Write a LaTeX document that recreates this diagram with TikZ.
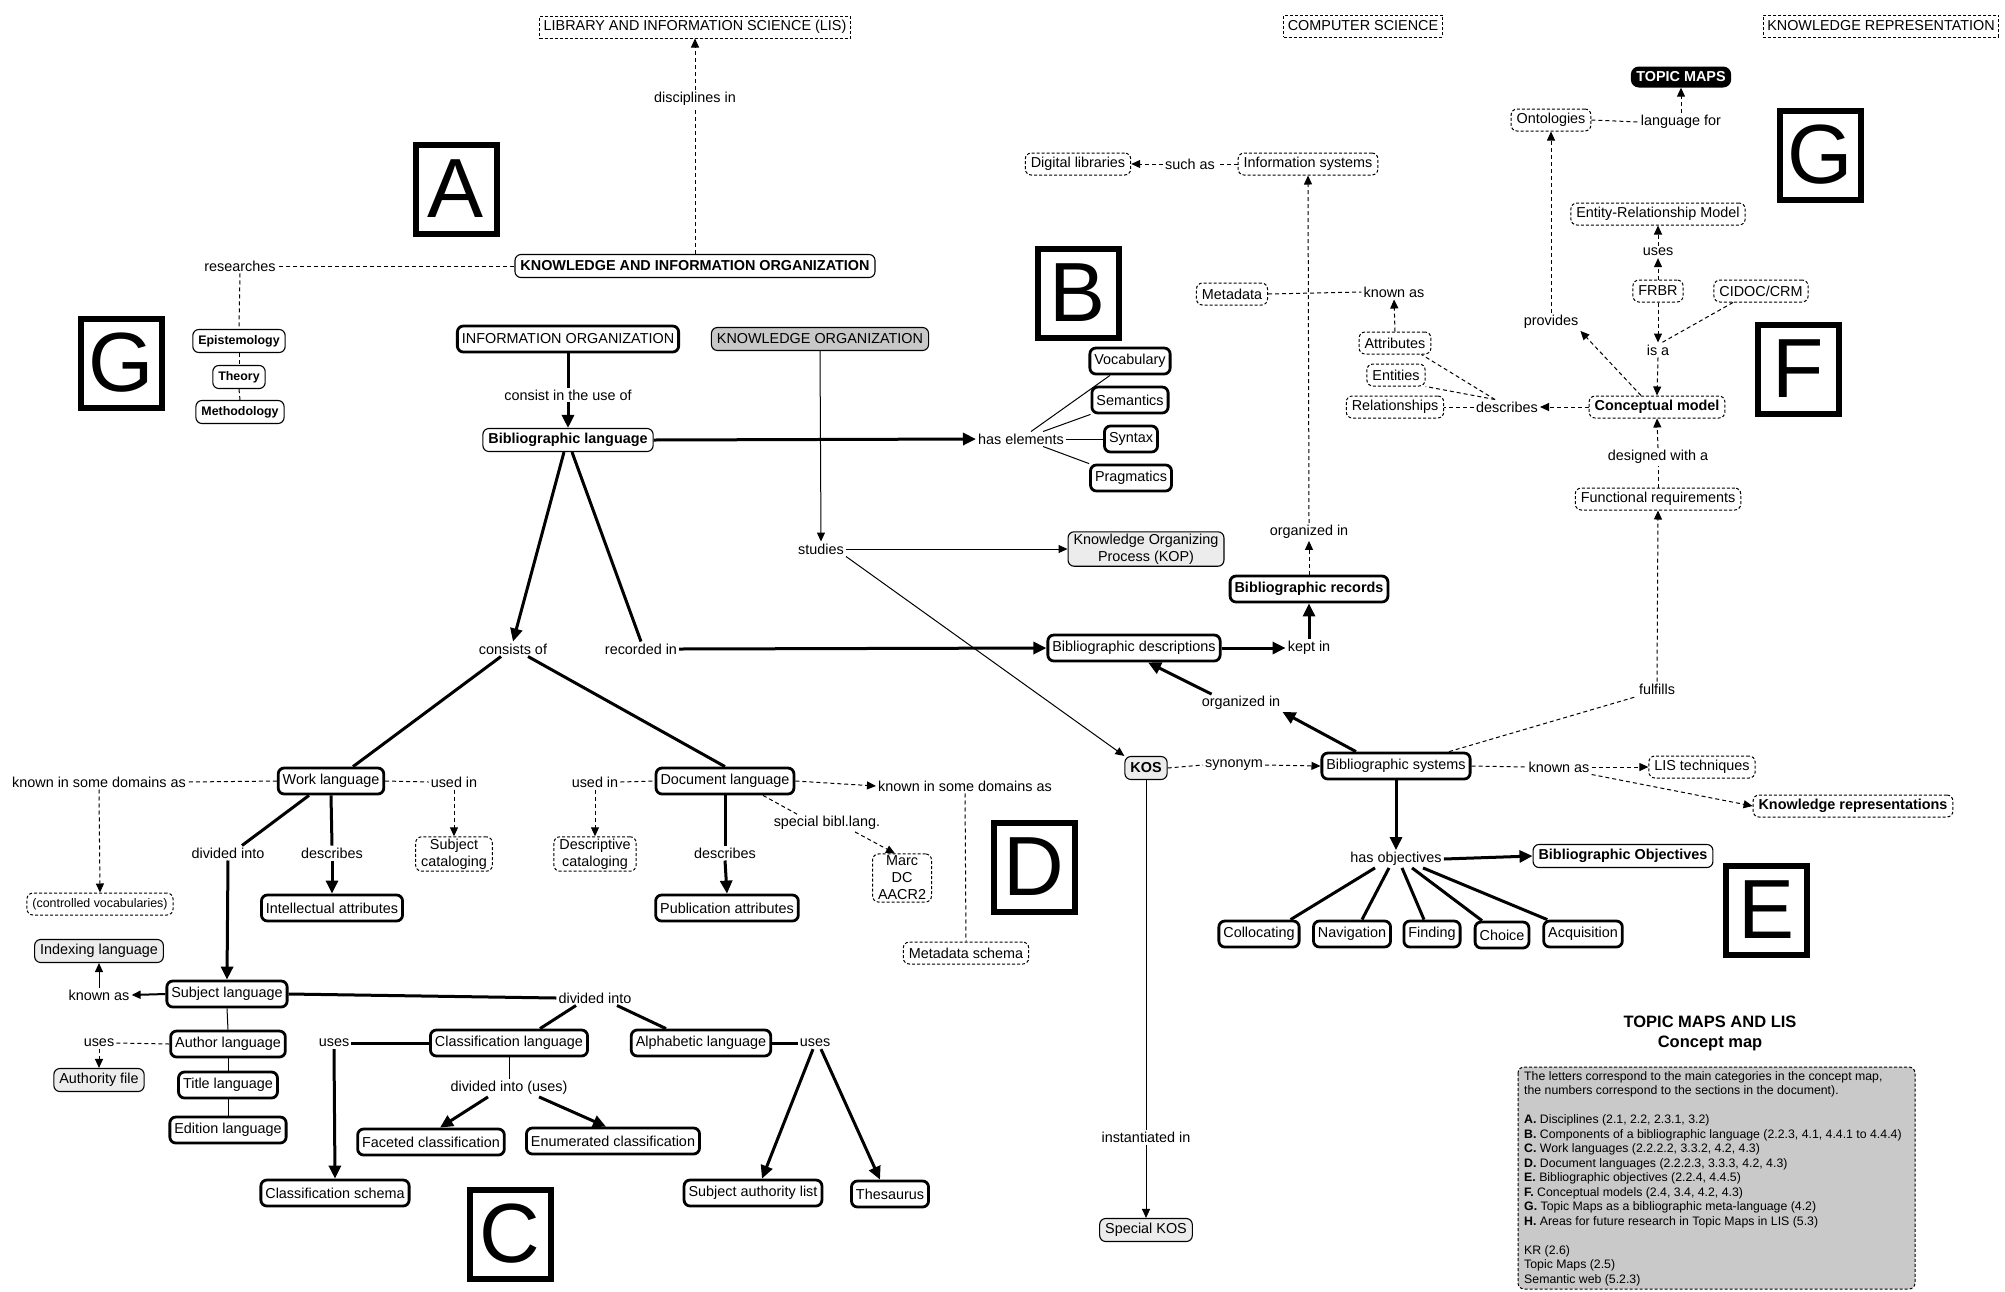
\documentclass[tikz,border=0pt]{standalone}
\usepackage{fontspec}
\setmainfont{Liberation Sans}
\usetikzlibrary{arrows.meta}
\definecolor{conceptgray}{RGB}{200,200,200}
\definecolor{palegray}{RGB}{236,236,236}
\definecolor{legendgray}{RGB}{201,201,201}
\newcommand\mapfont{\fontsize{14.4}{17}\selectfont}
\newcommand\smallmapfont{\fontsize{12.4}{14}\selectfont}
\newcommand\legendfont{\fontsize{12.3}{14.5}\selectfont}

\begin{document}
\begin{tikzpicture}[x=1pt,y=-1pt,
  concept/.style={rounded corners=6pt, inner xsep=5.5pt, inner ysep=2pt, minimum height=23pt, align=center, font=\mapfont},
  thinbox/.style={concept, draw, line width=1.1pt},
  thickbox/.style={concept, draw, line width=2.8pt, minimum height=26pt, inner xsep=4.5pt},
  dashbox/.style={concept, draw, line width=1pt, dash pattern=on 3pt off 2pt, minimum height=22pt},
  field/.style={draw, line width=1pt, dash pattern=on 3pt off 2pt, inner xsep=4pt, minimum height=22pt, font=\mapfont},
  strong/.style={font=\mapfont\bfseries},
  phrase/.style={inner sep=2pt, font=\mapfont},
  solidln/.style={line width=1pt},
  heavyln/.style={line width=3pt},
  midln/.style={line width=2pt},
  dashln/.style={line width=1pt, dash pattern=on 4pt off 3pt},
  tipsm/.style={-{Triangle[length=9pt,width=8pt]}},
  tiplg/.style={-{Triangle[length=13pt,width=12pt]}},
  letterbox/.style={draw, line width=6pt, minimum width=81pt, minimum height=89pt, inner sep=0pt, font=\fontsize{84}{84}\selectfont},
]
\useasboundingbox (0,0) rectangle (2005,1291);

% ---------- section letters ----------
\node[letterbox] (boxA) at (456,189) {A};
\node[letterbox] (boxB) at (1078,293) {B};
\node[letterbox] (boxC) at (510,1234) {C};
\node[letterbox] (boxD) at (1034,867) {D};
\node[letterbox] (boxE) at (1766,910) {E};
\node[letterbox] (boxF) at (1798,369) {F};
\node[letterbox] (boxGl) at (121,363) {G};
\node[letterbox] (boxGr) at (1820,155) {G};

% ---------- fields ----------
\node[field] (lis) at (695,27) {LIBRARY AND INFORMATION SCIENCE (LIS)};
\node[field] (cs) at (1363,26) {COMPUTER SCIENCE};
\node[field] (kr) at (1881,26) {KNOWLEDGE REPRESENTATION};

% ---------- upper left ----------
\node[thinbox, strong] (kio) at (695,266) {KNOWLEDGE AND INFORMATION ORGANIZATION};
\node[phrase] (disc) at (695,99) {disciplines in};
\node[phrase] (res) at (240,266) {researches};
\node[thinbox, font=\smallmapfont\bfseries] (epi) at (239,341) {Epistemology};
\node[thinbox, font=\smallmapfont\bfseries] (the) at (239,377) {Theory};
\node[thinbox, font=\smallmapfont\bfseries] (met) at (240,412) {Methodology};
\node[thickbox] (infoorg) at (568,339) {INFORMATION ORGANIZATION};
\node[thinbox, fill=conceptgray] (knorg) at (820,339) {KNOWLEDGE ORGANIZATION};
\node[phrase] (consistuse) at (568,395) {consist in the use of};
\node[thinbox, strong] (biblang) at (568,440) {Bibliographic language};

% ---------- components ----------
\node[phrase] (haselem) at (1021,439) {has elements};
\node[thickbox] (vocab) at (1130,361) {Vocabulary};
\node[thickbox] (sem) at (1130,400) {Semantics};
\node[thickbox] (syn) at (1131,439) {Syntax};
\node[thickbox] (prag) at (1131,478) {Pragmatics};
\node[phrase] (studies) at (821,549) {studies};
\node[thinbox, fill=palegray] (kop) at (1146,549) {Knowledge Organizing\\Process (KOP)};

% ---------- bibliographic descriptions and records ----------
\node[phrase] (consof) at (513,649) {consists of};
\node[phrase] (recin) at (641,649) {recorded in};
\node[thickbox] (bibdesc) at (1134,648) {Bibliographic descriptions};
\node[phrase] (keptin) at (1309,648) {kept in};
\node[thickbox, strong] (bibrec) at (1309,589) {Bibliographic records};
\node[phrase] (orgin1) at (1309,532) {organized in};
\node[dashbox] (infosys) at (1308,164) {Information systems};
\node[phrase] (suchas) at (1190,164) {such as};
\node[dashbox] (diglib) at (1078,164) {Digital libraries};

% ---------- conceptual models ----------
\node[dashbox] (metadata) at (1232,294) {Metadata};
\node[phrase] (knownas1) at (1394,292) {known as};
\node[dashbox] (attr) at (1395,343) {Attributes};
\node[dashbox] (ent) at (1396,375) {Entities};
\node[dashbox] (rel) at (1395,407) {Relationships};
\node[phrase] (describes) at (1507,407) {describes};
\node[dashbox, strong] (concmod) at (1657,407) {Conceptual model};
\node[phrase] (provides) at (1551,322) {provides};
\node[dashbox] (onto) at (1551,120) {Ontologies};
\node[phrase] (langfor) at (1681,122) {language for};
\node[concept, fill=black, text=white, font=\mapfont\bfseries, minimum height=21pt, rounded corners=8pt] (topicmaps) at (1681,77) {TOPIC MAPS};
\node[dashbox] (erm) at (1658,214) {Entity-Relationship Model};
\node[phrase] (uses1) at (1658,252) {uses};
\node[dashbox] (frbr) at (1658,291) {FRBR};
\node[dashbox] (cidoc) at (1761,291) {CIDOC/CRM};
\node[phrase] (isa) at (1658,350) {is a};
\node[phrase] (designed) at (1658,457) {designed with a};
\node[dashbox] (funreq) at (1658,499) {Functional requirements};
\node[phrase] (fulfills) at (1657,689) {fulfills};

% ---------- bibliographic systems ----------
\node[phrase] (orgin2) at (1241,703) {organized in};
\node[thinbox, strong, fill=palegray] (kos) at (1146,768) {KOS};
\node[phrase] (synonym) at (1234,765) {synonym};
\node[thickbox] (bibsys) at (1396,766) {Bibliographic systems};
\node[phrase] (knownas2) at (1559,767) {known as};
\node[dashbox] (listech) at (1702,767) {LIS techniques};
\node[dashbox, strong] (krep) at (1853,806) {Knowledge representations};
\node[phrase] (hasobj) at (1396,859) {has objectives};
\node[thinbox, strong] (bibobj) at (1623,856) {Bibliographic Objectives};
\node[thickbox] (colloc) at (1259,934) {Collocating};
\node[thickbox] (navig) at (1352,934) {Navigation};
\node[thickbox] (finding) at (1432,934) {Finding};
\node[thickbox] (choice) at (1502,935) {Choice};
\node[thickbox] (acq) at (1583,934) {Acquisition};
\node[phrase] (instin) at (1146,1137) {instantiated in};
\node[thinbox, fill=palegray] (specialkos) at (1146,1230) {Special KOS};

% ---------- work and document languages ----------
\node[thickbox] (worklang) at (331,781) {Work language};
\node[phrase] (kisd1) at (99,782) {known in some domains as};
\node[phrase] (usedin1) at (454,782) {used in};
\node[dashbox] (subjcat) at (454,854) {Subject\\cataloging};
\node[phrase] (usedin2) at (595,782) {used in};
\node[dashbox] (desccat) at (595,854) {Descriptive\\cataloging};
\node[thickbox] (doclang) at (725,781) {Document language};
\node[phrase] (kisd2) at (965,786) {known in some domains as};
\node[dashbox] (metaschema) at (966,953) {Metadata schema};
\node[phrase] (special) at (827,823) {special bibl.lang.};
\node[dashbox] (marc) at (902,878) {Marc\\DC\\AACR2};
\node[phrase] (divinto1) at (228,853) {divided into};
\node[phrase] (describes1) at (332,853) {describes};
\node[phrase] (describes2) at (725,853) {describes};
\node[thickbox] (intattr) at (332,908) {Intellectual attributes};
\node[thickbox] (pubattr) at (727,908) {Publication attributes};
\node[dashbox, font=\smallmapfont] (contvoc) at (100,904) {(controlled vocabularies)};
\node[thinbox, fill=palegray] (indexlang) at (99,951) {Indexing language};
\node[phrase] (knownas3) at (99,995) {known as};
\node[thickbox] (subjlang) at (227,994) {Subject language};
\node[phrase] (divinto2) at (595,998) {divided into};
\node[thickbox] (classlang) at (509,1043) {Classification language};
\node[thickbox] (alphalang) at (701,1043) {Alphabetic language};
\node[phrase] (uses2) at (334,1043) {uses};
\node[thickbox] (classschema) at (335,1193) {Classification schema};
\node[phrase] (divuses) at (509,1088) {divided into (uses)};
\node[thickbox] (faceted) at (431,1142) {Faceted classification};
\node[thickbox] (enum) at (613,1141) {Enumerated classification};
\node[phrase] (uses3) at (815,1043) {uses};
\node[thickbox] (sal) at (753,1193) {Subject authority list};
\node[thickbox] (thes) at (890,1194) {Thesaurus};
\node[thickbox] (authlang) at (228,1044) {Author language};
\node[thickbox] (titlelang) at (228,1085) {Title language};
\node[thickbox] (edlang) at (228,1130) {Edition language};
\node[phrase] (uses4) at (99,1043) {uses};
\node[thinbox, fill=palegray] (authfile) at (99,1080) {Authority file};

% ---------- connectors: disciplines ----------
\draw[dashln] (kio.north) -- (disc.south);
\draw[dashln, tipsm] (disc.north) -- (lis.south);
\draw[dashln] (kio.west) -- (res.east);
\draw[dashln] (res.south) -- (epi.north);
\draw[dashln] (epi.south) -- (the.north);
\draw[dashln] (the.south) -- (met.north);

% ---------- connectors: bibliographic language ----------
\draw[heavyln] (infoorg.south) -- (consistuse.north);
\draw[heavyln, tiplg] (consistuse.south) -- (biblang.north);
\draw[heavyln, tiplg] (biblang.east) -- (haselem.west);
\draw[solidln] ([xshift=10pt]haselem.north) -- ([xshift=-20pt]vocab.south);
\draw[solidln] ([xshift=22pt]haselem.north) -- (sem.south west);
\draw[solidln] (haselem.east) -- (syn.west);
\draw[solidln] ([xshift=22pt]haselem.south) -- (prag.north west);
\draw[solidln, tipsm] (knorg.south) -- (studies.north);
\draw[solidln, tipsm] (studies.east) -- (kop.west);
\draw[solidln, tipsm] (studies.south east) -- (kos.north west);
\draw[heavyln, tiplg] ([xshift=-4pt]biblang.south) -- (consof.north);
\draw[heavyln] ([xshift=-12pt]consof.south) -- ([xshift=22pt]worklang.north);
\draw[heavyln] ([xshift=15pt]consof.south) -- (doclang.north);
\draw[heavyln] ([xshift=4pt]biblang.south) -- (recin.north);
\draw[heavyln, tiplg] (recin.east) -- (bibdesc.west);
\draw[heavyln, tiplg] (bibdesc.east) -- (keptin.west);
\draw[heavyln, tiplg] (keptin.north) -- (bibrec.south);
\draw[dashln, tipsm] (bibrec.north) -- (orgin1.south);
\draw[dashln, tipsm] (orgin1.north) -- (infosys.south);
\draw[dashln] (infosys.west) -- (suchas.east);
\draw[dashln, tipsm] (suchas.west) -- (diglib.east);

% ---------- connectors: conceptual models ----------
\draw[dashln] (metadata.east) -- (knownas1.west);
\draw[dashln, tipsm] (attr.north) -- (knownas1.south);
\draw[dashln, tipsm] (concmod.west) -- (describes.east);
\draw[dashln] (describes.west) -- (rel.east);
\draw[dashln] ([xshift=-12pt]describes.north) -- (ent.south east);
\draw[dashln] ([xshift=-12pt]describes.north) -- ([xshift=-10pt]attr.south east);
\draw[dashln, tipsm] ([xshift=-16pt]concmod.north) -- (provides.south east);
\draw[dashln, tipsm] (provides.north) -- (onto.south);
\draw[dashln] (onto.east) -- (langfor.west);
\draw[dashln, tipsm] (langfor.north) -- (topicmaps.south);
\draw[dashln, tipsm] (frbr.north) -- (uses1.south);
\draw[dashln, tipsm] (uses1.north) -- (erm.south);
\draw[dashln, tipsm] (frbr.south) -- (isa.north);
\draw[dashln] ([xshift=-28pt]cidoc.south) -- ([xshift=4pt]isa.north);
\draw[dashln, tipsm] (isa.south) -- (concmod.north);
\draw[dashln] (funreq.north) -- (designed.south);
\draw[dashln, tipsm] (designed.north) -- (concmod.south);
\draw[dashln] ([xshift=53pt]bibsys.north) -- (fulfills.south west);
\draw[dashln, tipsm] (fulfills.north) -- (funreq.south);

% ---------- connectors: bibliographic systems ----------
\draw[heavyln, tiplg] ([xshift=-40pt]bibsys.north) -- (orgin2.south east);
\draw[heavyln, tiplg] ([xshift=12pt]orgin2.north west) -- ([xshift=14pt]bibdesc.south);
\draw[dashln] (kos.east) -- (synonym.west);
\draw[dashln, tipsm] (synonym.east) -- (bibsys.west);
\draw[dashln] (bibsys.east) -- (knownas2.west);
\draw[dashln, tipsm] (knownas2.east) -- (listech.west);
\draw[dashln, tipsm] (knownas2.south east) -- (krep.west);
\draw[heavyln, tiplg] (bibsys.south) -- (hasobj.north);
\draw[heavyln, tiplg] (hasobj.east) -- (bibobj.west);
\draw[heavyln] ([xshift=-21pt]hasobj.south) -- ([xshift=-10pt]colloc.north east);
\draw[heavyln] ([xshift=-7pt]hasobj.south) -- ([xshift=10pt]navig.north);
\draw[heavyln] ([xshift=6pt]hasobj.south) -- ([xshift=-8pt]finding.north);
\draw[heavyln] ([xshift=16pt]hasobj.south) -- ([xshift=-20pt]choice.north);
\draw[heavyln] ([xshift=27pt]hasobj.south) -- ([xshift=5pt]acq.north west);
\draw[solidln] (kos.south) -- (instin.north);
\draw[solidln, tipsm] (instin.south) -- (specialkos.north);

% ---------- connectors: work and document languages ----------
\draw[dashln] (worklang.west) -- (kisd1.east);
\draw[dashln, tipsm] (kisd1.south) -- (contvoc.north);
\draw[dashln] (worklang.east) -- (usedin1.west);
\draw[dashln, tipsm] (usedin1.south) -- (subjcat.north);
\draw[dashln] (usedin2.east) -- (doclang.west);
\draw[dashln, tipsm] (usedin2.south) -- (desccat.north);
\draw[dashln, tipsm] (doclang.east) -- (kisd2.west);
\draw[dashln] (kisd2.south) -- (metaschema.north);
\draw[dashln] ([xshift=38pt]doclang.south) -- ([xshift=-30pt]special.north);
\draw[dashln, tipsm] ([xshift=28pt]special.south) -- ([xshift=-7pt]marc.north);
\draw[heavyln] ([xshift=-22pt]worklang.south) -- ([xshift=14pt]divinto1.north);
\draw[heavyln, tiplg] (divinto1.south) -- (subjlang.north);
\draw[heavyln] (worklang.south) -- (describes1.north);
\draw[heavyln, tiplg] (describes1.south) -- (intattr.north);
\draw[heavyln] (doclang.south) -- (describes2.north);
\draw[heavyln, tiplg] (describes2.south) -- (pubattr.north);
\draw[midln, tipsm] (subjlang.west) -- (knownas3.east);
\draw[solidln, tipsm] (knownas3.north) -- (indexlang.south);
\draw[heavyln] (subjlang.east) -- (divinto2.west);
\draw[heavyln] ([xshift=-19pt]divinto2.south) -- ([xshift=31pt]classlang.north);
\draw[heavyln] ([xshift=22pt]divinto2.south) -- ([xshift=-35pt]alphalang.north);
\draw[solidln] (subjlang.south) -- (authlang.north);
\draw[solidln] (authlang.south) -- (titlelang.north);
\draw[solidln] (titlelang.south) -- (edlang.north);
\draw[dashln] (authlang.west) -- (uses4.east);
\draw[dashln, tipsm] (uses4.south) -- (authfile.north);
\draw[heavyln] (classlang.west) -- (uses2.east);
\draw[heavyln, tiplg] (uses2.south) -- (classschema.north);
\draw[solidln] (classlang.south) -- (divuses.north);
\draw[heavyln, tiplg] ([xshift=-21pt]divuses.south) -- ([xshift=9pt]faceted.north);
\draw[heavyln, tiplg] ([xshift=30pt]divuses.south) -- ([xshift=-7pt]enum.north);
\draw[heavyln] (alphalang.east) -- (uses3.west);
\draw[heavyln, tiplg] ([xshift=-2pt]uses3.south) -- ([xshift=9pt]sal.north);
\draw[heavyln, tiplg] ([xshift=6pt]uses3.south) -- ([xshift=-10pt]thes.north);

% ---------- title and legend ----------
\node[align=center, font=\fontsize{16.5}{20}\selectfont\bfseries] (title) at (1710,1033) {TOPIC MAPS AND LIS\\Concept map};
\path[draw, line width=1pt, dash pattern=on 3pt off 2pt, fill=legendgray, rounded corners=6pt]
  (1518,1067) rectangle (1915,1289);
\node[anchor=north west, inner sep=0pt, align=left, font=\legendfont] (legend) at (1524,1071) {%
The letters correspond to the main categories in the concept map,\\
the numbers correspond to the sections in the document).\\[14.5pt]
\textbf{A.} Disciplines (2.1, 2.2, 2.3.1, 3.2)\\
\textbf{B.} Components of a bibliographic language (2.2.3, 4.1, 4.4.1 to 4.4.4)\\
\textbf{C.} Work languages (2.2.2.2, 3.3.2, 4.2, 4.3)\\
\textbf{D.} Document languages (2.2.2.3, 3.3.3, 4.2, 4.3)\\
\textbf{E.} Bibliographic objectives (2.2.4, 4.4.5)\\
\textbf{F.} Conceptual models (2.4, 3.4, 4.2, 4.3)\\
\textbf{G.} Topic Maps as a bibliographic meta-language (4.2)\\
\textbf{H.} Areas for future research in Topic Maps in LIS (5.3)\\[14.5pt]
KR (2.6)\\
Topic Maps (2.5)\\
Semantic web (5.2.3)};
\end{tikzpicture}
\end{document}
